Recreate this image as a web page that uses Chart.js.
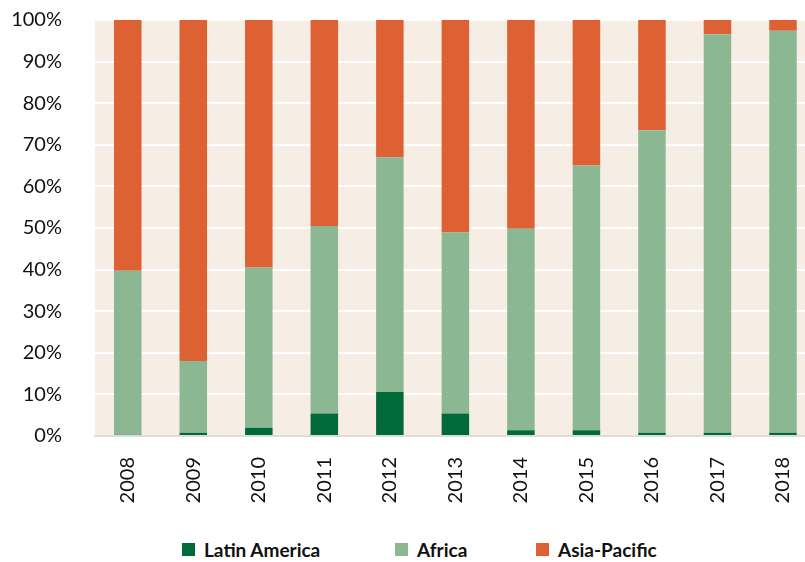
<!DOCTYPE html>
<html>
<head>
<meta charset="utf-8">
<script src="https://cdn.jsdelivr.net/npm/chart.js@4"></script>
<style>
  html, body { margin: 0; padding: 0; background: #fff; overflow: hidden; }
  #wrap { position: relative; width: 805px; height: 562px; overflow: hidden; }
  #myCanvas { position: absolute; left: 0; top: -25px; }
  #legend { position: absolute; left: 0; top: 538px; width: 805px; height: 24px;
            font-family: Lato, sans-serif; font-weight: bold; font-size: 19px; color: #111; }
  .item { position: absolute; top: 0; display: flex; align-items: center; height: 22px; }
  .box { width: 13px; height: 13px; margin-right: 9px; display: inline-block; }
</style>
</head>
<body>
<div id="wrap">
  <canvas id="myCanvas" width="828" height="545"></canvas>
  <div id="legend"></div>
</div>
<script>
const years = ['2008', '2009', '2010', '2011', '2012', '2013', '2014', '2015', '2016', '2017', '2018'];
const latinAmerica = [0.3, 0.8, 2.0, 5.4, 10.6, 5.4, 1.4, 1.4, 0.8, 0.8, 0.8];
const africa = [39.4, 17.2, 38.5, 45.1, 56.4, 43.6, 48.4, 63.6, 72.7, 95.8, 96.6];
const asiaPacific = [60.3, 82.0, 59.5, 49.5, 33.0, 51.0, 50.2, 35.0, 26.5, 3.4, 2.6];
const seriesNames = ['Latin America', 'Africa', 'Asia-Pacific'];
const colors = ['#006B38', '#8BB892', '#DD6133'];
const yTicks = [0, 10, 20, 30, 40, 50, 60, 70, 80, 90, 100];

document.addEventListener('DOMContentLoaded', function () {
    const tickFont = { family: 'Lato, sans-serif', size: 20 };
    const legendLefts = [182, 395, 536];

    const plotBackground = {
        id: 'plotBackground',
        beforeDraw(chart) {
            const { ctx, chartArea } = chart;
            ctx.save();
            ctx.fillStyle = '#F6EEE4';
            ctx.fillRect(chartArea.left, chartArea.top, chartArea.right - chartArea.left, chartArea.bottom - chartArea.top);
            ctx.restore();
        }
    };

    const values = [latinAmerica, africa, asiaPacific];

    new Chart(document.getElementById('myCanvas'), {
        type: 'bar',
        data: {
            labels: years,
            datasets: seriesNames.map((name, i) => ({
                label: name,
                data: values[i],
                backgroundColor: colors[i],
                borderWidth: 0,
                barPercentage: 0.42,
                categoryPercentage: 1
            }))
        },
        options: {
            responsive: false,
            animation: false,
            layout: { padding: { top: 0, left: 0, right: 0, bottom: 0 } },
            plugins: {
                legend: { display: false },
                tooltip: { enabled: false }
            },
            scales: {
                x: {
                    stacked: true,
                    grid: { display: false, drawTicks: false },
                    border: { color: '#DCDCDC', width: 2 },
                    ticks: {
                        color: '#111',
                        font: tickFont,
                        minRotation: 90,
                        maxRotation: 90,
                        padding: 21
                    },
                    afterFit(scale) { scale.height = 84; }
                },
                y: {
                    stacked: true,
                    min: 0,
                    max: 100,
                    afterBuildTicks(scale) { scale.ticks = yTicks.map(v => ({ value: v })); },
                    grid: { color: '#FFFFFF', lineWidth: 2, drawTicks: false },
                    border: { display: false },
                    ticks: {
                        color: '#111',
                        font: tickFont,
                        padding: 33,
                        callback: v => v + '%'
                    },
                    afterFit(scale) { scale.width = 95; }
                }
            }
        },
        plugins: [plotBackground]
    });

    const legend = document.getElementById('legend');
    seriesNames.forEach((name, i) => {
        const item = document.createElement('span');
        item.className = 'item';
        item.style.left = legendLefts[i] + 'px';
        const box = document.createElement('span');
        box.className = 'box';
        box.style.background = colors[i];
        item.appendChild(box);
        item.appendChild(document.createTextNode(name));
        legend.appendChild(item);
    });
});
</script>
</body>
</html>
